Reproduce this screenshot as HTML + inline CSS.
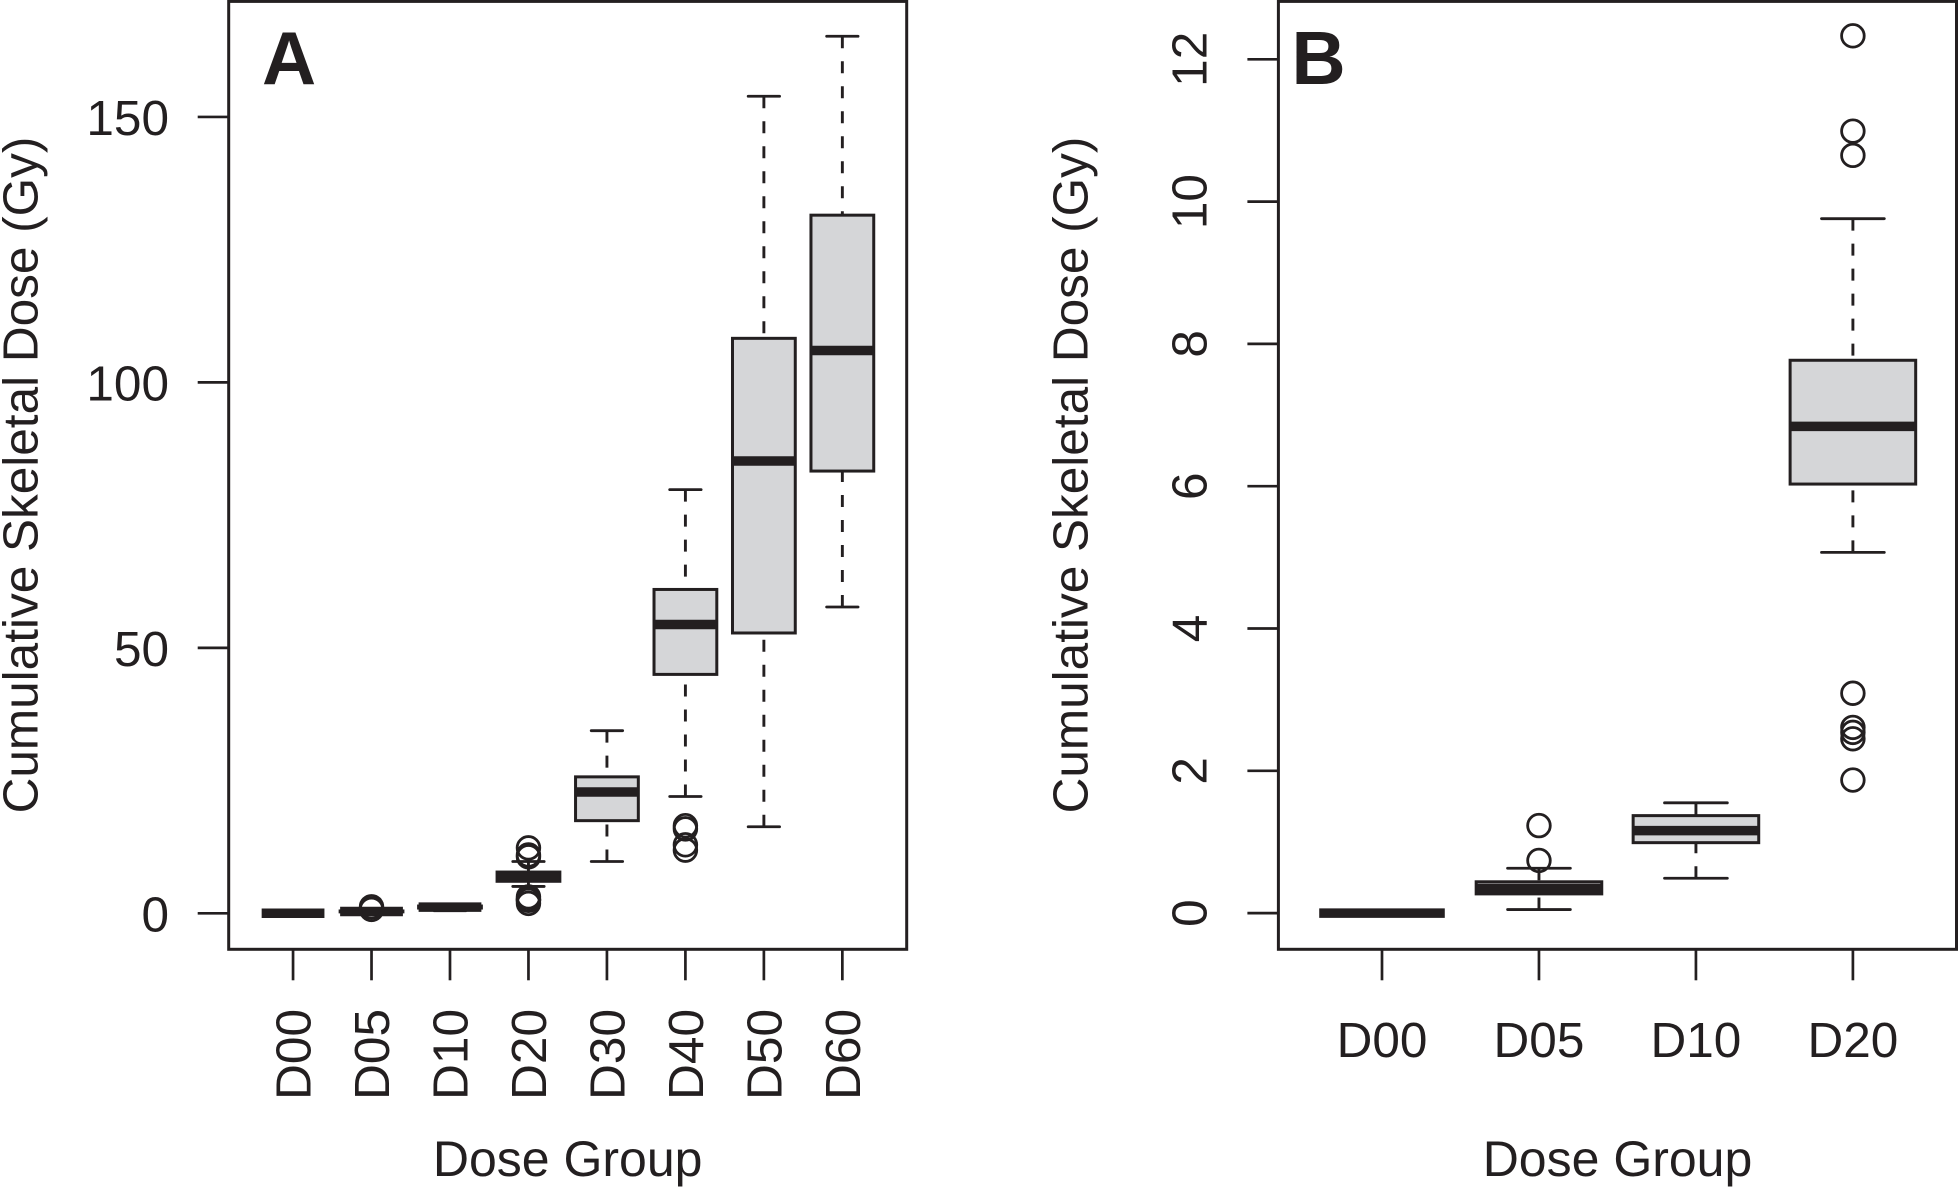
<!DOCTYPE html>
<html lang="en">
<head>
<meta charset="utf-8">
<title>Cumulative Skeletal Dose by Dose Group</title>
<style>
html,body{margin:0;padding:0;background:#fff;}
svg{display:block;}
text{font-family:"Liberation Sans",Arial,sans-serif;fill:#231f20;font-size:49.5px;}
text.axis-title{font-size:50px;}
</style>
</head>
<body>
<svg id="chart" xmlns="http://www.w3.org/2000/svg" width="1958" height="1187" viewBox="0 0 1958 1187">
  <rect x="0" y="0" width="1958" height="1187" fill="#ffffff"/>
  <g id="panelA"></g>
  <g id="panelB"></g>
  <text x="262" y="84" style="font-size:75px;font-weight:bold">A</text>
  <text x="1291.5" y="84" style="font-size:75px;font-weight:bold">B</text>
  <text transform="translate(37.5,475) rotate(-90)" text-anchor="middle">Cumulative Skeletal Dose (Gy)</text>
  <text transform="translate(1087.5,475) rotate(-90)" text-anchor="middle">Cumulative Skeletal Dose (Gy)</text>
  <text class="axis-title" x="567.7" y="1176" text-anchor="middle">Dose Group</text>
  <text class="axis-title" x="1617.5" y="1176" text-anchor="middle">Dose Group</text>
</svg>
<script>
// Panel A data
const categoriesA = ['D00','D05','D10','D20','D30','D40','D50','D60'];
const whiskerLowA = [0, 0.05, 0.49, 5.06, 9.75, 22, 16.3, 57.7];
const q1A = [0, 0.27, 0.99, 6.03, 17.45, 45, 52.8, 83.3];
const medianA = [0, 0.345, 1.16, 6.84, 22.85, 54.4, 85.2, 106];
const q3A = [0, 0.44, 1.37, 7.77, 25.7, 61, 108.3, 131.5];
const whiskerHighA = [0, 0.63, 1.55, 9.76, 34.4, 79.8, 153.9, 165.2];
const outliersA = [
  [],
  [1.23, 0.74],
  [],
  [12.33, 10.99, 10.65, 3.09, 2.61, 2.54, 2.45, 1.87],
  [],
  [16.5, 15.9, 12.9, 11.9],
  [],
  []
];
const yTicksA = [0, 50, 100, 150];

// Panel B data
const categoriesB = ['D00','D05','D10','D20'];
const whiskerLowB = [0, 0.05, 0.49, 5.07];
const q1B = [0, 0.27, 0.99, 6.03];
const medianB = [0, 0.345, 1.16, 6.84];
const q3B = [0, 0.44, 1.37, 7.77];
const whiskerHighB = [0, 0.63, 1.55, 9.76];
const outliersB = [
  [],
  [1.23, 0.74],
  [],
  [12.33, 10.99, 10.65, 3.09, 2.61, 2.54, 2.45, 1.87]
];
const yTicksB = [0, 2, 4, 6, 8, 10, 12];

const INK = '#231f20';
const FILL = '#d5d6d8';
const NS = 'http://www.w3.org/2000/svg';

function make(parent, tag, attrs) {
  const el = document.createElementNS(NS, tag);
  for (const k in attrs) el.setAttribute(k, attrs[k]);
  parent.appendChild(el);
  return el;
}

function drawPanel(cfg) {
  const g = document.getElementById(cfg.id);
  const n = cfg.categories.length;
  const plot = cfg.plot;
  // R-style boxplot x-range: 0.5..n+0.5 expanded by 4%
  const pad = n * 0.04;
  const xLo = 0.5 - pad, xHi = n + 0.5 + pad;
  const xScale = i => plot.left + (i + 1 - xLo) / (xHi - xLo) * (plot.right - plot.left);
  const unit = (plot.right - plot.left) / (xHi - xLo);
  const yScale = v => cfg.yZero - v * cfg.yPerUnit;
  const p = cfg.prefix;

  const frame = make(g, 'rect', {x: plot.left, y: plot.top, width: plot.right - plot.left, height: plot.bottom - plot.top, fill: 'none', stroke: INK, 'stroke-width': 3});
  
  

  cfg.yTicks.forEach(t => {
    const y = yScale(t);
    const tick = make(g, 'line', {x1: plot.left - 31, x2: plot.left, y1: y, y2: y, stroke: INK, 'stroke-width': 2.7});
    
    
    let label;
    if (cfg.rotatedY) {
      label = make(g, 'text', {transform: 'translate(1206.7,' + y + ') rotate(-90)', 'text-anchor': 'middle'});
    } else {
      label = make(g, 'text', {x: 169, y: y + 18, 'text-anchor': 'end'});
    }
    label.textContent = String(t);
    
    
  });

  cfg.categories.forEach((c, i) => {
    const x = xScale(i);
    const hw = 0.4 * unit, cw = 0.2 * unit;

    const tick = make(g, 'line', {x1: x, x2: x, y1: plot.bottom, y2: plot.bottom + 31, stroke: INK, 'stroke-width': 2.7});
    
    

    let label;
    if (cfg.rotatedX) {
      label = make(g, 'text', {transform: 'translate(' + (x + 17.5) + ',1009) rotate(-90)', 'text-anchor': 'end'});
    } else {
      label = make(g, 'text', {x: x, y: 1057, 'text-anchor': 'middle'});
    }
    label.textContent = c;
    
    

    const yq1 = yScale(cfg.q1[i]), yq3 = yScale(cfg.q3[i]);
    const yMed = yScale(cfg.median[i]);
    const yLow = yScale(cfg.whiskerLow[i]), yHigh = yScale(cfg.whiskerHigh[i]);

    const whiskerUp = make(g, 'line', {x1: x, x2: x, y1: yHigh, y2: yq3, stroke: INK, 'stroke-width': 2.9, 'stroke-dasharray': '12 13'});
    
    
    const whiskerDown = make(g, 'line', {x1: x, x2: x, y1: yLow, y2: yq1, stroke: INK, 'stroke-width': 2.9, 'stroke-dasharray': '12 13'});
    
    

    const capUp = make(g, 'line', {x1: x - cw, x2: x + cw, y1: yHigh, y2: yHigh, stroke: INK, 'stroke-width': 2.8, 'stroke-linecap': 'round'});
    
    
    const capDown = make(g, 'line', {x1: x - cw, x2: x + cw, y1: yLow, y2: yLow, stroke: INK, 'stroke-width': 2.8, 'stroke-linecap': 'round'});
    
    

    const box = make(g, 'rect', {x: x - hw, y: yq3, width: 2 * hw, height: Math.max(yq1 - yq3, 0), fill: FILL, stroke: INK, 'stroke-width': 3});
    
    

    const med = make(g, 'line', {x1: x - hw, x2: x + hw, y1: yMed, y2: yMed, stroke: INK, 'stroke-width': 9.5});
    
    

    cfg.outliers[i].forEach((v, j) => {
      const o = make(g, 'circle', {cx: x, cy: yScale(v), r: 11.3, fill: 'none', stroke: INK, 'stroke-width': 2.8});
      
      
    });
  });
}

drawPanel({
  id: 'panelA', prefix: 'panel-a',
  plot: {left: 228.7, right: 906.7, top: 1.4, bottom: 949.3},
  yZero: 913.3, yPerUnit: 5.309,
  categories: categoriesA, q1: q1A, median: medianA, q3: q3A,
  whiskerLow: whiskerLowA, whiskerHigh: whiskerHighA, outliers: outliersA,
  yTicks: yTicksA, rotatedX: true, rotatedY: false
});

drawPanel({
  id: 'panelB', prefix: 'panel-b',
  plot: {left: 1278.4, right: 1956.5, top: 1.4, bottom: 949.3},
  yZero: 913.1, yPerUnit: 71.15,
  categories: categoriesB, q1: q1B, median: medianB, q3: q3B,
  whiskerLow: whiskerLowB, whiskerHigh: whiskerHighB, outliers: outliersB,
  yTicks: yTicksB, rotatedX: false, rotatedY: true
});
</script>
</body>
</html>
